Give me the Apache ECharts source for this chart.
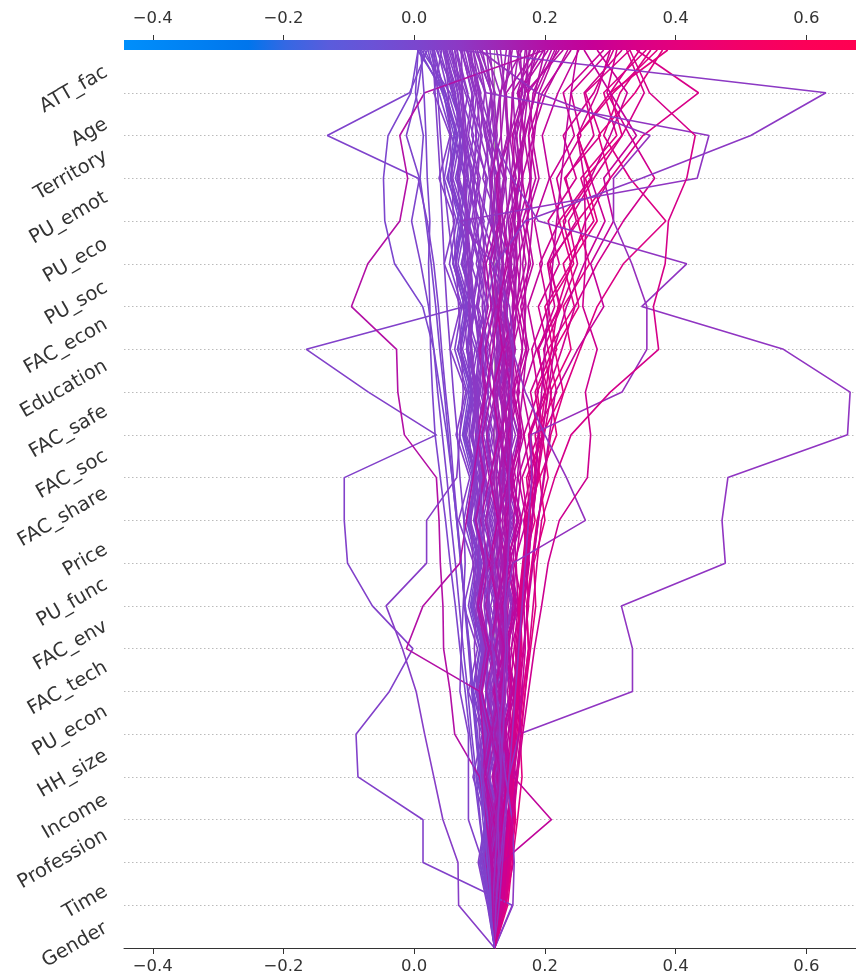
<!DOCTYPE html>
<html>
<head>
<meta charset="utf-8">
<script src="https://cdn.jsdelivr.net/npm/echarts@6/dist/echarts.min.js"></script>
<style>
  html, body { margin: 0; padding: 0; background: #ffffff; }
  #chart { width: 856px; height: 978px; }
</style>
</head>
<body>
<div id="chart"></div>
<script>
// Feature order, bottom (first) to top (last) of the decision plot
const features = ['Gender', 'Time', 'Profession', 'Income', 'HH_size', 'PU_econ', 'FAC_tech',
  'FAC_env', 'PU_func', 'Price', 'FAC_share', 'FAC_soc', 'FAC_safe', 'Education', 'FAC_econ',
  'PU_soc', 'PU_eco', 'PU_emot', 'Territory', 'Age', 'ATT_fac'];

// Expected model output where every path starts
const baseValue = 0.123;

// Output axis
const xMin = -0.444;
const xMax = 0.676;
const xTicks = [-0.4, -0.2, 0.0, 0.2, 0.4, 0.6];

// Cumulative model output of each observation after each feature (Time ... ATT_fac, final output)
const lowOutput = [
  [.112,.098,.109,.090,.104,.083,.097,.076,.091,.068,.085,.064,.079,.055,.071,.046,.062,.038,.055,.030,.042],
  [.128,.138,.124,.142,.128,.149,.133,.153,.136,.158,.139,.150,.128,.141,.117,.128,.104,.112,.088,.096,.070],
  [.120,.104,.118,.099,.114,.094,.108,.087,.103,.080,.097,.075,.090,.066,.083,.059,.074,.050,.066,.043,.024],
  [.133,.145,.131,.150,.136,.156,.140,.161,.145,.165,.149,.160,.141,.150,.130,.136,.115,.119,.101,.108,.090],
  [.117,.130,.113,.126,.108,.121,.103,.116,.097,.110,.091,.104,.085,.097,.078,.090,.070,.082,.061,.073,.053],
  [.124,.109,.123,.106,.120,.101,.116,.097,.112,.092,.107,.086,.101,.080,.093,.072,.086,.063,.078,.055,.011],
  [.130,.118,.135,.121,.139,.124,.143,.127,.146,.129,.148,.130,.146,.125,.139,.117,.129,.105,.116,.093,.081],
  [.114,.126,.110,.123,.106,.119,.101,.113,.095,.107,.089,.100,.082,.093,.074,.085,.066,.077,.057,.045,.031],
  [.126,.140,.127,.144,.130,.148,.133,.151,.135,.154,.136,.155,.136,.152,.132,.146,.125,.137,.114,.124,.100],
  [.119,.106,.117,.102,.113,.097,.109,.092,.104,.086,.099,.080,.093,.074,.086,.067,.079,.059,.071,.052,.036],
  [.122,.135,.120,.133,.117,.130,.113,.126,.108,.121,.103,.115,.097,.108,.090,.101,.083,.093,.075,.066,.058],
  [.127,.113,.129,.115,.130,.116,.131,.117,.131,.116,.130,.113,.127,.108,.122,.101,.114,.092,.104,.081,.062],
  [.116,.103,.113,.098,.109,.094,.104,.088,.099,.082,.093,.076,.087,.070,.080,.063,.072,.055,.064,.047,.005],
  [.131,.146,.133,.149,.134,.151,.135,.153,.136,.152,.134,.149,.130,.144,.124,.137,.117,.128,.108,.118,.096],
  [.121,.133,.118,.130,.115,.127,.111,.123,.106,.118,.101,.112,.095,.106,.088,.099,.081,.091,.072,.082,.065],
  [.118,.105,.116,.101,.112,.096,.107,.090,.102,.084,.096,.078,.090,.071,.083,.064,.075,.056,.067,.048,.016],
  [.125,.139,.123,.137,.120,.134,.117,.131,.113,.127,.109,.122,.104,.116,.098,.109,.091,.101,.083,.092,.076],
  [.123,.110,.121,.107,.118,.103,.114,.099,.110,.094,.105,.089,.099,.083,.093,.076,.086,.069,.078,.061,.047],
  [.129,.143,.129,.146,.131,.148,.132,.150,.133,.150,.132,.148,.129,.143,.124,.136,.117,.127,.108,.098,.085],
  [.115,.101,.111,.095,.106,.089,.100,.083,.094,.076,.088,.069,.081,.062,.073,.054,.065,.046,.057,.038,.021],
  [.124,.137,.121,.135,.118,.132,.115,.128,.111,.124,.106,.119,.101,.113,.095,.106,.088,.098,.080,.089,.072],
  [.120,.107,.118,.104,.115,.100,.111,.096,.107,.091,.102,.086,.096,.080,.090,.073,.083,.066,.075,.058,.039],
  [.132,.147,.134,.151,.137,.155,.140,.158,.142,.160,.143,.159,.141,.155,.137,.149,.131,.141,.123,.131,.110],
  [.117,.104,.114,.100,.110,.095,.105,.090,.100,.084,.094,.078,.088,.071,.081,.064,.073,.056,.065,.048,.027],
  [.126,.139,.125,.139,.124,.137,.122,.135,.119,.132,.116,.128,.112,.123,.107,.117,.101,.110,.094,.102,.082],
  [.121,.108,.119,.105,.116,.101,.112,.097,.108,.092,.103,.087,.097,.081,.091,.074,.084,.067,.076,.059,.044],
  [.128,.115,.129,.114,.128,.112,.126,.109,.123,.105,.119,.100,.114,.094,.108,.087,.100,.079,.091,.070,.050],
  [.113,.100,.110,.096,.106,.091,.101,.086,.096,.080,.090,.074,.084,.067,.077,.060,.069,.052,.061,.044,.008],
  [.130,.144,.131,.146,.132,.147,.133,.148,.133,.147,.132,.145,.129,.141,.125,.135,.119,.128,.111,.119,.093],
  [.122,.111,.124,.112,.125,.112,.125,.111,.124,.109,.122,.106,.118,.101,.113,.095,.107,.087,.099,.078,.055],
  [.117,.108,.101,.095,.088,.082,.075,.069,.063,.056,.050,.043,.036,.030,.022,.010,-.004,.008,-.012,.005,.015],
  [.122,.115,.108,.101,.095,.090,.084,.078,.071,.065,.058,.052,.046,.039,.033,.026,.018,.009,.014,.002,.006]
];

const midOutput = [
  [.126,.130,.124,.131,.127,.134,.128,.123,.130,.126,.133,.127,.121,.129,.124,.131,.125,.119,.127,.122,.116],
  [.131,.127,.135,.129,.136,.131,.138,.133,.128,.136,.130,.137,.132,.126,.134,.128,.136,.130,.124,.133,.141],
  [.122,.128,.123,.129,.125,.120,.127,.122,.129,.124,.118,.126,.121,.128,.122,.116,.124,.131,.125,.118,.104],
  [.128,.133,.129,.136,.131,.138,.133,.140,.135,.130,.137,.132,.139,.134,.141,.136,.130,.138,.145,.139,.132],
  [.124,.120,.126,.121,.127,.123,.118,.125,.120,.127,.122,.129,.124,.131,.126,.121,.128,.123,.117,.109,.097],
  [.130,.126,.132,.138,.134,.140,.135,.131,.137,.143,.138,.134,.141,.136,.143,.149,.144,.139,.146,.152,.147],
  [.125,.131,.127,.133,.129,.125,.132,.128,.124,.131,.126,.121,.128,.123,.119,.126,.121,.116,.122,.117,.111],
  [.129,.124,.130,.126,.132,.137,.133,.139,.134,.129,.136,.142,.137,.133,.140,.135,.142,.148,.143,.138,.126],
  [.121,.116,.120,.113,.117,.110,.114,.107,.111,.104,.108,.100,.095,.101,.092,.086,.094,.083,.077,.070,.062],
  [.127,.131,.127,.133,.138,.134,.140,.136,.142,.138,.145,.141,.148,.154,.150,.157,.153,.160,.167,.174,.183],
  [.119,.124,.118,.113,.119,.112,.107,.113,.106,.100,.106,.099,.093,.099,.092,.086,.079,.087,.080,.073,.058],
  [.132,.128,.134,.130,.136,.132,.138,.144,.140,.146,.142,.148,.144,.151,.157,.153,.160,.166,.162,.169,.176],
  [.124,.118,.123,.116,.110,.115,.108,.102,.107,.100,.094,.099,.092,.086,.091,.083,.077,.082,.074,.067,.045],
  [.129,.135,.131,.137,.133,.140,.136,.142,.138,.145,.151,.147,.154,.150,.157,.163,.159,.166,.162,.170,.189],
  [.120,.114,.108,.114,.107,.101,.106,.099,.093,.098,.090,.084,.089,.081,.075,.080,.072,.066,.071,.063,.049],
  [.126,.122,.127,.123,.129,.125,.131,.127,.133,.129,.125,.131,.127,.133,.129,.135,.131,.137,.133,.139,.146],
  [.123,.128,.122,.127,.121,.116,.121,.115,.110,.115,.109,.104,.109,.103,.097,.102,.096,.090,.095,.088,.073],
  [.131,.137,.142,.138,.144,.149,.145,.151,.156,.152,.158,.163,.159,.165,.171,.166,.173,.179,.175,.182,.210],
  [.118,.113,.117,.111,.105,.110,.103,.097,.102,.095,.089,.094,.087,.081,.086,.078,.072,.077,.069,.062,.034],
  [.128,.124,.129,.135,.131,.137,.133,.128,.134,.130,.136,.142,.138,.144,.140,.146,.152,.148,.155,.151,.160],
  [.122,.127,.121,.126,.120,.125,.119,.113,.118,.112,.117,.111,.105,.110,.104,.109,.103,.097,.102,.095,.087],
  [.134,.139,.135,.141,.147,.143,.149,.155,.151,.157,.163,.159,.166,.172,.168,.175,.181,.177,.184,.191,.218],
  [.119,.115,.110,.115,.109,.104,.108,.102,.097,.101,.095,.090,.094,.088,.083,.087,.081,.076,.080,.074,.066],
  [.130,.126,.131,.127,.133,.138,.134,.140,.136,.142,.148,.144,.150,.146,.152,.158,.154,.161,.157,.164,.170]
];

const highOutput = [
  [.126,.112,.124,.108,.119,.103,.114,.098,.110,.094,.108,.095,.110,.101,.118,.110,.130,.125,.148,.150,.192],
  [.131,.144,.133,.148,.136,.151,.139,.155,.142,.158,.146,.162,.150,.166,.155,.171,.161,.178,.168,.186,.215],
  [.124,.136,.121,.133,.118,.130,.116,.128,.115,.128,.116,.130,.120,.135,.127,.143,.137,.155,.150,.170,.228],
  [.135,.122,.138,.125,.141,.128,.144,.131,.147,.134,.150,.138,.154,.142,.158,.147,.163,.152,.169,.158,.178],
  [.129,.143,.131,.147,.134,.151,.138,.155,.142,.160,.147,.165,.152,.171,.158,.178,.166,.186,.175,.196,.240],
  [.120,.107,.117,.103,.113,.099,.110,.096,.107,.094,.106,.095,.108,.099,.113,.106,.121,.116,.133,.131,.165],
  [.133,.119,.134,.121,.136,.123,.138,.125,.141,.128,.144,.132,.148,.137,.153,.143,.160,.151,.168,.161,.205],
  [.127,.139,.125,.138,.124,.137,.124,.138,.125,.140,.128,.143,.132,.148,.137,.154,.144,.161,.152,.170,.157],
  [.138,.152,.140,.156,.144,.161,.148,.166,.153,.172,.159,.179,.166,.187,.174,.196,.184,.207,.196,.220,.252],
  [.122,.110,.120,.107,.117,.104,.115,.102,.114,.102,.115,.104,.118,.109,.124,.116,.132,.127,.143,.141,.186],
  [.130,.117,.132,.119,.134,.121,.137,.124,.140,.128,.144,.132,.148,.137,.154,.143,.160,.150,.168,.159,.198],
  [.125,.138,.124,.137,.123,.137,.124,.138,.126,.141,.129,.145,.134,.150,.140,.157,.147,.165,.156,.175,.172],
  [.136,.124,.139,.127,.142,.130,.146,.134,.150,.139,.155,.144,.161,.150,.167,.157,.175,.165,.183,.174,.222],
  [.121,.133,.119,.131,.117,.130,.116,.130,.117,.132,.120,.136,.124,.141,.130,.148,.137,.156,.146,.166,.162],
  [.134,.147,.136,.150,.139,.154,.142,.158,.146,.163,.151,.168,.157,.175,.163,.182,.171,.191,.180,.201,.235],
  [.128,.115,.126,.112,.124,.110,.122,.109,.121,.109,.122,.111,.124,.115,.129,.121,.135,.129,.143,.139,.150]
];

const topOutput = [
  [.137,.142,.148,.145,.152,.158,.155,.162,.168,.174,.165,.190,.178,.205,.190,.222,.205,.248,.228,.275,.305],
  [.133,.139,.145,.151,.148,.155,.162,.159,.166,.173,.190,.176,.205,.188,.224,.205,.252,.230,.285,.262,.330],
  [.140,.147,.143,.150,.157,.164,.160,.168,.176,.170,.192,.185,.218,.205,.245,.228,.275,.255,.310,.290,.355],
  [.136,.141,.147,.153,.150,.157,.163,.160,.167,.185,.175,.198,.188,.218,.205,.244,.228,.272,.250,.305,.372],
  [.141,.148,.155,.152,.160,.167,.175,.172,.180,.188,.205,.196,.228,.215,.252,.238,.280,.262,.318,.300,.388],
  [.134,.140,.136,.143,.149,.146,.153,.159,.156,.163,.178,.168,.190,.180,.205,.192,.222,.208,.245,.228,.290],
  [.138,.143,.149,.146,.153,.160,.157,.164,.171,.168,.182,.175,.200,.190,.222,.208,.248,.232,.275,.260,.318],
  [.143,.150,.158,.165,.162,.170,.178,.186,.183,.200,.192,.218,.208,.240,.228,.268,.250,.300,.282,.338,.380],
  [.135,.141,.147,.144,.151,.158,.165,.162,.170,.178,.172,.196,.185,.212,.200,.240,.222,.270,.250,.300,.345],
  [.139,.145,.151,.148,.155,.162,.159,.167,.175,.168,.186,.178,.200,.190,.215,.204,.232,.218,.255,.240,.300],
  [.135,.140,.146,.152,.149,.156,.163,.160,.168,.176,.184,.192,.201,.210,.220,.240,.262,.300,.350,.435,.340],
  [.140,.147,.154,.151,.159,.167,.175,.172,.181,.190,.199,.209,.229,.254,.280,.320,.385,.330,.290,.315,.362],
  [.132,.137,.143,.149,.155,.152,.158,.165,.172,.180,.188,.196,.205,.214,.233,.260,.292,.270,.300,.326,.280],
  [.137,.143,.149,.156,.163,.160,.167,.174,.182,.190,.198,.207,.216,.250,.290,.270,.305,.290,.340,.300,.260],
  [.134,.139,.145,.151,.148,.154,.160,.167,.174,.181,.188,.196,.204,.226,.246,.280,.320,.368,.330,.295,.310],
  [.138,.144,.150,.147,.154,.161,.168,.175,.172,.180,.189,.199,.210,.198,.225,.250,.236,.275,.318,.352,.325]
];

const scattered = [
  [.128,.132,.138,.145,.160,.334,.334,.317,.476,.471,.480,.663,.667,.565,.348,.417,.190,.150,.120,.100,.080],
  [.120,.115,.110,.105,.100,.097,.092,.095,.090,.087,.092,.096,.100,.105,.110,.125,.170,.348,.515,.630,.068],
  [.118,.112,.105,.100,.094,.088,.083,.077,.072,.066,.060,.055,.048,.042,.037,.030,.020,.006,-.133,-.007,.020],
  [.150,.0135,.0135,-.086,-.089,-.038,-.002,-.064,-.102,-.107,-.107,.034,-.070,-.165,.077,.060,.052,.045,.040,.036,.030],
  [.125,.118,.110,.100,.062,.055,.045,.044,.040,.038,.034,-.015,-.025,-.027,-.096,-.071,-.022,-.010,-.022,.016,.200],
  [.118,.112,.108,.102,.097,.090,.085,.078,.072,.065,.058,.050,.040,.030,.013,-.030,-.045,-.047,-.040,-.005,.006],
  [.068,.067,.044,.030,.016,.003,-.018,-.043,.019,.019,.065,.070,.075,.072,.068,.064,.060,.058,.055,.052,.048],
  [.128,.134,.210,.152,.160,.165,.170,.168,.175,.180,.186,.190,.195,.200,.206,.212,.218,.225,.232,.240,.250],
  [.151,.153,.150,.140,.132,.126,.120,.115,.110,.104,.100,.096,.092,.088,.085,.082,.080,.078,.076,.074,.072],
  [.120,.124,.128,.132,.136,.140,.143,.140,.151,.262,.233,.200,.170,.150,.140,.130,.120,.115,.110,.100,.090],
  [.130,.135,.140,.145,.150,.155,.160,.165,.170,.175,.180,.178,.318,.356,.356,.333,.305,.305,.361,.188,.100],
  [.125,.130,.128,.133,.130,.136,.140,.138,.143,.147,.145,.150,.148,.152,.146,.120,.071,.433,.451,.110,.080],
  [.140,.146,.152,.158,.164,.170,.176,.182,.188,.195,.215,.240,.300,.374,.366,.384,.389,.417,.430,.360,.330],
  [.135,.142,.150,.158,.166,.175,.184,.195,.205,.222,.265,.270,.262,.280,.258,.262,.262,.260,.250,.280,.300],
  [.120,.118,.115,.110,.105,.100,-.012,.0135,.070,.080,.090,.100,.110,.120,.130,.140,.150,.160,.170,.185,.200],
  [.115,.105,.083,.083,.083,.070,.072,.075,.078,.076,.070,.066,.060,.055,.050,.046,.043,.040,.036,.032,.028],
  [.115,.108,.100,.092,.085,.078,.070,.063,.055,.048,.040,.032,.028,.025,.024,.022,.024,.020,.018,.015,.010]
];

// Colour scale of the model output (positions as fractions of the output axis)
const colorStops = [
  [0.00, '#008ffb'], [0.17, '#0075ec'], [0.22, '#3468e3'], [0.28, '#5a5cdc'],
  [0.34, '#6b52d6'], [0.40, '#7b46ce'], [0.46, '#8d38c4'], [0.52, '#a124b3'],
  [0.58, '#b50ea4'], [0.64, '#c60096'], [0.70, '#d80087'], [0.76, '#e5007a'],
  [0.84, '#f20068'], [0.93, '#fc0058'], [1.00, '#ff0051']
];

function hexToRgb(h) {
  return [parseInt(h.slice(1, 3), 16), parseInt(h.slice(3, 5), 16), parseInt(h.slice(5, 7), 16)];
}
function colorFor(v) {
  let f = (v - xMin) / (xMax - xMin);
  f = Math.max(0, Math.min(1, f));
  for (let i = 1; i < colorStops.length; i++) {
    if (f <= colorStops[i][0]) {
      const [f0, c0] = colorStops[i - 1];
      const [f1, c1] = colorStops[i];
      const t = (f - f0) / (f1 - f0);
      const a = hexToRgb(c0), b = hexToRgb(c1);
      const m = a.map((x, j) => Math.round(x + (b[j] - x) * t));
      return 'rgb(' + m.join(',') + ')';
    }
  }
  return colorStops[colorStops.length - 1][1];
}

const allPaths = [].concat(lowOutput, midOutput, highOutput, topOutput, scattered);

const series = [{
  type: 'line',
  data: [[baseValue, 0], [baseValue, features.length]],
  symbol: 'none',
  silent: true,
  z: 1,
  lineStyle: { color: '#999999', width: 1 }
}];
allPaths.forEach(function (p) {
  const pts = [[baseValue, 0]];
  p.forEach(function (v, i) { pts.push([v, i + 1]); });
  series.push({
    type: 'line',
    data: pts,
    symbol: 'none',
    silent: true,
    z: 2,
    lineStyle: { color: colorFor(p[p.length - 1]), width: 1.6 }
  });
});

const fmt = function (v) {
  const s = Math.abs(v).toFixed(1);
  return (v < -1e-9 ? '\u2212' : '') + s;
};

const chart = echarts.init(document.getElementById('chart'), null, { renderer: 'canvas' });
chart.setOption({
  animation: false,
  backgroundColor: '#ffffff',
  textStyle: { fontFamily: 'DejaVu Sans' },
  grid: { left: 124, right: 0, top: 50, bottom: 30 },
  xAxis: [
    {
      type: 'value', min: xMin, max: xMax, position: 'bottom',
      axisLine: { show: true, lineStyle: { color: '#333333', width: 1 } },
      axisTick: { show: true, length: 6, customValues: xTicks, lineStyle: { color: '#333333' } },
      axisLabel: { customValues: xTicks, formatter: fmt, fontSize: 16.5, color: '#333333', margin: 10 },
      splitLine: { show: false }
    },
    {
      type: 'value', min: xMin, max: xMax, position: 'top', offset: 10,
      axisLine: { show: false },
      axisTick: { show: true, length: 5, customValues: xTicks, lineStyle: { color: '#333333' } },
      axisLabel: { customValues: xTicks, formatter: fmt, fontSize: 16.5, color: '#333333', margin: 13 },
      splitLine: { show: false }
    }
  ],
  yAxis: {
    type: 'value', min: 0, max: features.length, interval: 1,
    axisLine: { show: false }, axisTick: { show: false }, axisLabel: { show: false },
    splitLine: { show: true, showMinLine: false, showMaxLine: false,
      lineStyle: { color: '#bbbbbb', width: 1, type: [1.5, 2.5] } }
  },
  series: series
});

// Colour bar along the top edge and rotated feature names on the left
const labelFont = '19.5px "DejaVu Sans"';
const ctx = document.createElement('canvas').getContext('2d');
ctx.font = labelFont;
const graphics = [{
  type: 'rect', z: 100, silent: true,
  shape: { x: 124, y: 40, width: 732, height: 10 },
  style: { fill: new echarts.graphic.LinearGradient(0, 0, 1, 0,
    colorStops.map(function (s) { return { offset: s[0], color: s[1] }; })) }
}];
features.forEach(function (name, k) {
  const ty = chart.convertToPixel({ yAxisIndex: 0 }, k);
  const w = ctx.measureText(name).width;
  graphics.push({
    type: 'text', z: 100, silent: true,
    x: 106, y: ty - w / 4 - 3,
    rotation: Math.PI / 6,
    style: { text: name, font: labelFont, fill: '#333333', align: 'right', verticalAlign: 'middle' }
  });
});
chart.setOption({ graphic: graphics });
</script>
</body>
</html>
